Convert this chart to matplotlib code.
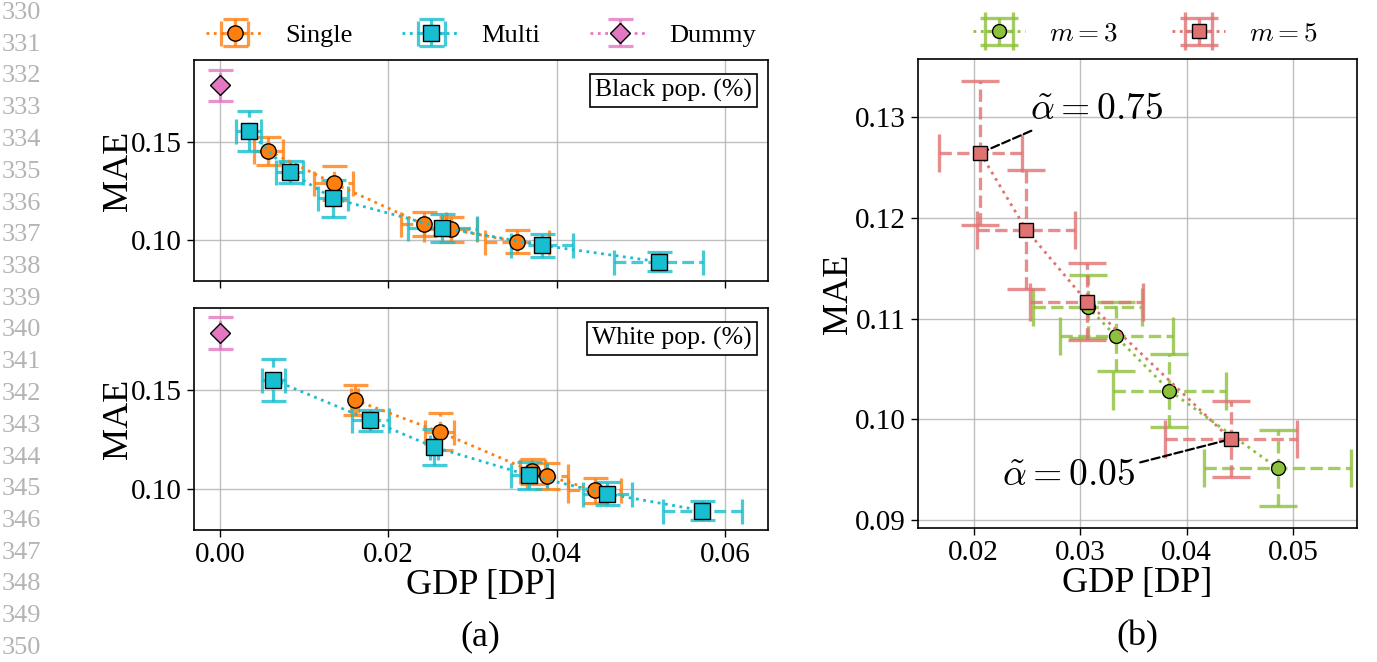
import matplotlib
matplotlib.use('Agg')
import matplotlib.pyplot as plt

plt.rcParams['font.family'] = 'serif'
plt.rcParams['font.serif'] = ['Liberation Serif', 'DejaVu Serif']
plt.rcParams['mathtext.fontset'] = 'cm'

# ---------------- data (a) Black pop. ----------------
black_single_x = [0.00577, 0.0135, 0.0242, 0.0274, 0.0353]
black_single_xerr = [0.0017, 0.0023, 0.0027, 0.0031, 0.0038]
black_single_y = [0.1453, 0.1288, 0.1080, 0.1054, 0.0992]
black_single_yerr = [0.0070, 0.0086, 0.0062, 0.0064, 0.0059]

black_multi_x = [0.00343, 0.00828, 0.01341, 0.02641, 0.0383, 0.0521]
black_multi_xerr = [0.0015, 0.0016, 0.0018, 0.0041, 0.0037, 0.0053]
black_multi_y = [0.1554, 0.1346, 0.1212, 0.1063, 0.0973, 0.0890]
black_multi_yerr = [0.0100, 0.0055, 0.0093, 0.0071, 0.0059, 0.0047]

black_dummy_x = [0.0]
black_dummy_y = [0.1786]
black_dummy_yerr = [0.0079]

# ---------------- data (a) White pop. ----------------
white_single_x = [0.01602, 0.0261, 0.0371, 0.0389, 0.0445]
white_single_xerr = [0.0004, 0.0017, 0.0015, 0.0024, 0.0031]
white_single_y = [0.1449, 0.1288, 0.1088, 0.1066, 0.0992]
white_single_yerr = [0.0074, 0.0093, 0.0063, 0.0065, 0.0064]

white_multi_x = [0.00636, 0.01785, 0.0254, 0.0367, 0.0460, 0.0573]
white_multi_xerr = [0.0014, 0.0022, 0.0005, 0.0021, 0.0029, 0.0047]
white_multi_y = [0.1551, 0.1347, 0.1212, 0.1068, 0.0975, 0.0890]
white_multi_yerr = [0.0106, 0.0053, 0.0089, 0.0068, 0.0059, 0.0048]

white_dummy_x = [0.0]
white_dummy_y = [0.1788]
white_dummy_yerr = [0.0080]

# ---------------- data (b) ----------------
m3_x = [0.03069, 0.03337, 0.03837, 0.04853]
m3_xerr = [0.0051, 0.0053, 0.0053, 0.0069]
m3_y = [0.1112, 0.10823, 0.10286, 0.09515]
m3_yerr = [0.0031, 0.0034, 0.0036, 0.0038]

m5_x = [0.02063, 0.02494, 0.03062, 0.04412]
m5_xerr = [0.0039, 0.0046, 0.0053, 0.0062]
m5_y = [0.12646, 0.11884, 0.1117, 0.09803]
m5_yerr = [0.0072, 0.0059, 0.0038, 0.0038]

annot_labels = [r'$\tilde{\alpha}=0.75$', r'$\tilde{\alpha}=0.05$']

C_SINGLE = '#ff7f0e'
C_MULTI = '#17becf'
C_DUMMY = '#e377c2'
C_M3 = '#8dc03c'
C_M5 = '#e07272'

W, H = 1377, 662
fig = plt.figure(figsize=(W / 100, H / 100), dpi=100)


def px_axes(x0, y0, x1, y1):
    return fig.add_axes([x0 / W, 1 - y1 / H, (x1 - x0) / W, (y1 - y0) / H])


def eb(ax, x, y, yerr, color, marker, label, xerr=None, ms=10, capsize=9,
       elw=2.0, alpha=0.8):
    c = ax.errorbar(x, y, xerr=xerr, yerr=yerr, fmt=marker, ls=':', lw=2,
                    color=color, mfc=color, mec='black', mew=1.0, ms=ms,
                    capsize=capsize, elinewidth=elw,
                    label=label, zorder=3)
    for cl in c[1]:
        cl.set_alpha(alpha)
        cl.set_markeredgewidth(elw)
    for lc in c[2]:
        lc.set_linestyle('--')
        lc.set_alpha(alpha)
    return c


def style(ax):
    ax.grid(True, color='#b0b0b0', lw=1.0, alpha=0.8, zorder=0)
    ax.set_axisbelow(True)
    ax.tick_params(labelsize=21, direction='out', length=5, width=1)
    for s in ax.spines.values():
        s.set_linewidth(1.2)


ax1 = px_axes(194, 60, 768, 281)
ax2 = px_axes(194, 308, 768, 530)
ax3 = px_axes(918, 59, 1357, 528)

panels = [
    (ax1, black_single_x, black_single_xerr, black_single_y, black_single_yerr,
     black_multi_x, black_multi_xerr, black_multi_y, black_multi_yerr,
     black_dummy_x, black_dummy_y, black_dummy_yerr, 'Black pop. (%)'),
    (ax2, white_single_x, white_single_xerr, white_single_y, white_single_yerr,
     white_multi_x, white_multi_xerr, white_multi_y, white_multi_yerr,
     white_dummy_x, white_dummy_y, white_dummy_yerr, 'White pop. (%)'),
]

for (ax, sx, sxe, sy, sye, mx, mxe, my, mye, dx, dy, dye, title) in panels:
    eb(ax, sx, sy, sye, C_SINGLE, 'o', 'Single', xerr=sxe, ms=11, capsize=9,
       elw=2.3)
    eb(ax, mx, my, mye, C_MULTI, 's', 'Multi', xerr=mxe, ms=11, capsize=9,
       elw=2.3)
    eb(ax, dx, dy, dye, C_DUMMY, 'D', 'Dummy', ms=10, capsize=9, elw=2.3)
    ax.set_xlim(-0.00307, 0.0651)
    ax.set_ylim(0.0792, 0.1914)
    ax.set_xticks([0.00, 0.02, 0.04, 0.06])
    ax.set_yticks([0.10, 0.15])
    ax.set_ylabel('MAE', fontsize=26, labelpad=-3)
    style(ax)
    ax.text(0.972, 0.915, title, transform=ax.transAxes, ha='right', va='top',
            fontsize=18.5, bbox=dict(boxstyle='square,pad=0.2', fc='white',
                                     ec='black', lw=1.2), zorder=5)

ax1.tick_params(labelbottom=False)
ax2.set_xticklabels(['0.00', '0.02', '0.04', '0.06'])
ax2.set_xlabel('GDP [DP]', fontsize=26, labelpad=1)

ax1.legend(loc='lower center', bbox_to_anchor=(0.5, 1.0), ncol=3,
           frameon=False, fontsize=19, handlelength=2.2, columnspacing=1.9,
           borderaxespad=0.1, handletextpad=0.8)

# ---------------- panel (b) ----------------
eb(ax3, m3_x, m3_y, m3_yerr, C_M3, 'o', r'$m=3$', xerr=m3_xerr, ms=10,
   capsize=14, elw=2.4)
eb(ax3, m5_x, m5_y, m5_yerr, C_M5, 's', r'$m=5$', xerr=m5_xerr, ms=10,
   capsize=14, elw=2.4)
ax3.set_xlim(0.01479, 0.05597)
ax3.set_ylim(0.0892, 0.1358)
ax3.set_xticks([0.02, 0.03, 0.04, 0.05])
ax3.set_yticks([0.09, 0.10, 0.11, 0.12, 0.13])
ax3.set_xticklabels(['0.02', '0.03', '0.04', '0.05'])
ax3.set_yticklabels(['0.09', '0.10', '0.11', '0.12', '0.13'])
ax3.set_xlabel('GDP [DP]', fontsize=26, labelpad=1)
ax3.set_ylabel('MAE', fontsize=26, labelpad=0.5)
style(ax3)
ax3.legend(loc='lower center', bbox_to_anchor=(0.517, 1.0), ncol=2,
           frameon=False, fontsize=19.5, handlelength=1.95, columnspacing=2.0,
           borderaxespad=0.05, handletextpad=0.88)

ax3.annotate(annot_labels[0], xy=(m5_x[0], m5_y[0]), xytext=(0.0315, 0.13077),
             fontsize=27, ha='center', va='center',
             arrowprops=dict(arrowstyle='-', ls='--', color='black', lw=1.6,
                             relpos=(0.08, 0.0), shrinkA=2, shrinkB=2))
ax3.annotate(annot_labels[1], xy=(m5_x[3], m5_y[3]), xytext=(0.02888, 0.09438),
             fontsize=27, ha='center', va='center',
             arrowprops=dict(arrowstyle='-', ls='--', color='black', lw=1.6,
                             relpos=(1.0, 0.85), shrinkA=2, shrinkB=2))

# sub-figure captions
fig.text(480 / W, 1 - 637 / H, '(a)', fontsize=26, ha='center', va='center')
fig.text(1137 / W, 1 - 637 / H, '(b)', fontsize=26, ha='center', va='center')

# line numbers of the manuscript margin
for i, n in enumerate(range(330, 351)):
    fig.text(2 / W, 1 - (13 + i * 31.75) / H, str(n), fontsize=19,
             color='#b4b4b4', ha='left', va='center')

fig.savefig('out.png', dpi=100)
